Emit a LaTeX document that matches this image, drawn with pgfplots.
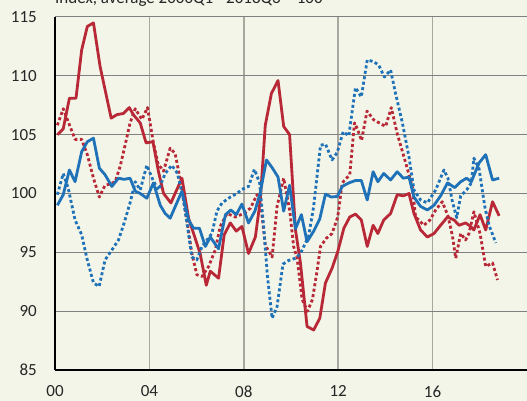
\documentclass[border=0pt]{standalone}
\usepackage{pgfplots}
\pgfplotsset{compat=1.18}
\usepackage{fontspec}
\setmainfont{Carlito}
\definecolor{bg}{RGB}{242,245,232}
\definecolor{myred}{RGB}{185,40,55}
\definecolor{myblue}{RGB}{31,114,184}
\definecolor{hgrid}{RGB}{128,128,128}
\definecolor{vgrid}{RGB}{168,168,160}
\pgfplotstableread{
x y
0.10 105.0
0.35 105.5
0.61 108.1
0.89 108.1
1.13 112.2
1.37 114.2
1.63 114.5
1.91 110.8
2.38 106.4
2.62 106.7
2.90 106.8
3.15 107.3
3.32 106.7
3.61 106.0
3.86 104.3
4.15 104.4
4.38 101.9
4.60 100.0
4.91 99.2
5.38 101.3
5.66 97.9
6.15 94.9
6.41 92.2
6.58 93.4
6.93 92.8
7.17 96.5
7.43 97.5
7.68 96.8
7.92 97.2
8.20 94.9
8.49 96.3
8.70 99.45
8.91 105.8
9.17 108.5
9.45 109.6
9.69 105.7
9.94 105.0
10.19 96.9
10.40 94.1
10.68 88.7
10.96 88.4
11.22 89.4
11.46 92.4
11.74 93.65
11.98 95.05
12.24 97.05
12.49 98.0
12.73 98.25
12.98 97.75
13.23 95.5
13.48 97.3
13.68 96.6
13.93 97.75
14.22 98.3
14.50 99.9
14.76 99.8
15.00 100.0
15.21 98.3
15.49 96.9
15.78 96.3
16.06 96.6
16.34 97.3
16.63 98.0
16.91 97.75
17.12 97.3
17.40 97.5
17.61 97.2
17.75 96.9
18.01 98.2
18.25 96.9
18.54 99.3
18.82 98.1
}\redsolid
\pgfplotstableread{
x y
0.10 105.8
0.35 107.2
0.56 106.1
0.85 104.6
1.13 104.6
1.37 103.3
1.63 101.3
1.88 99.7
2.12 100.7
2.33 100.8
2.55 101.0
2.76 102.3
2.97 104.1
3.18 106.0
3.40 107.2
3.68 106.3
3.92 107.3
4.17 104.3
4.37 102.5
4.60 101.9
4.88 103.85
5.09 103.4
5.31 101.15
5.59 97.75
5.80 94.9
6.01 93.1
6.23 92.95
6.51 93.8
6.79 95.2
7.00 97.2
7.29 98.3
7.64 98.0
7.99 98.3
8.28 98.75
8.56 99.9
8.73 98.9
8.91 95.6
9.20 94.6
9.41 98.9
9.69 101.3
9.95 98.5
10.11 95.5
10.26 94.5
10.47 91.0
10.70 90.0
10.91 91.0
11.11 93.5
11.25 95.5
11.50 96.2
11.74 96.6
11.98 98.0
12.17 100.9
12.49 101.6
12.69 106.0
12.81 105.5
12.99 104.5
13.22 107.0
13.51 106.25
14.01 105.7
14.25 107.3
14.50 105.1
14.86 102.6
15.14 100.6
15.28 98.0
15.63 97.3
15.89 97.75
16.13 98.6
16.41 99.3
16.65 98.1
16.84 96.4
16.98 94.5
17.19 96.6
17.40 96.05
17.54 96.6
17.75 98.45
18.01 96.6
18.25 93.8
18.54 94.1
18.75 92.65
}\reddot
\pgfplotstableread{
x y
0.10 99.0
0.35 99.9
0.61 102.0
0.85 101.0
1.13 103.55
1.37 104.4
1.63 104.7
1.88 102.15
2.12 101.6
2.41 100.6
2.69 101.3
2.93 101.2
3.18 101.3
3.40 100.2
3.61 100.0
3.89 99.6
4.17 100.9
4.46 99.0
4.67 98.3
4.88 97.9
5.38 100.2
5.66 97.75
5.87 97.05
6.12 97.05
6.37 95.5
6.58 96.3
6.93 95.3
7.22 98.2
7.45 98.6
7.68 98.2
7.92 99.1
8.20 97.5
8.47 98.5
8.70 100.1
8.96 102.85
9.20 102.2
9.45 101.4
9.69 98.5
9.94 100.7
10.19 97.0
10.44 98.2
10.68 95.9
10.96 96.8
11.22 97.85
11.46 99.95
11.71 99.7
11.96 99.75
12.17 100.6
12.45 100.9
12.73 101.1
12.98 101.1
13.23 99.45
13.48 101.85
13.68 101.0
13.93 101.7
14.22 101.15
14.50 101.85
14.76 101.3
15.00 101.4
15.21 99.7
15.49 98.9
15.78 98.6
16.06 99.0
16.34 99.8
16.63 100.9
16.94 100.5
17.19 101.0
17.44 101.3
17.64 101.0
17.97 102.6
18.25 103.3
18.54 101.15
18.82 101.3
}\bluesolid
\pgfplotstableread{
x y
0.10 99.9
0.35 101.7
0.56 100.45
0.85 97.75
1.13 96.5
1.35 94.5
1.63 92.4
1.87 92.1
2.12 94.35
2.41 95.2
2.69 96.05
2.93 97.5
3.18 99.2
3.40 101.0
3.61 100.3
3.89 102.4
4.15 101.15
4.38 100.3
4.67 101.7
4.95 102.4
5.19 101.7
5.42 99.7
5.59 97.5
5.80 94.6
6.01 94.35
6.23 95.5
6.44 96.05
6.65 96.6
6.86 98.5
7.08 99.2
7.43 99.7
7.71 100.0
7.92 100.35
8.20 100.6
8.45 102.05
8.67 100.9
8.85 97.0
9.00 93.0
9.20 89.4
9.41 90.4
9.66 94.0
9.89 94.3
10.19 94.5
10.40 94.9
10.75 96.4
10.96 98.9
11.25 104.1
11.46 104.2
11.74 102.85
11.96 103.5
12.21 105.25
12.45 104.9
12.73 109.0
12.98 108.2
13.23 111.35
13.51 111.2
13.72 110.9
13.96 109.9
14.22 110.5
14.43 108.5
14.72 106.0
15.00 103.1
15.21 100.3
15.49 99.45
15.78 99.2
16.13 100.3
16.48 102.0
16.65 101.3
16.84 99.3
17.02 97.95
17.19 99.8
17.44 100.3
17.64 100.9
17.75 103.0
17.97 102.1
18.21 98.9
18.39 97.3
18.68 95.8
}\bluedot
\begin{document}
\begin{tikzpicture}[x=1pt,y=1pt]
\fill[bg] (0,0) rectangle (527,401);
\useasboundingbox (0,0) rectangle (527,401);
\begin{axis}[at={(55pt,31pt)}, anchor=south west,
  width=472pt, height=353pt, scale only axis,
  xmin=0, xmax=20, ymin=85, ymax=115,
  xtick={0,4,8,12,16}, xticklabels={00,04,08,12,16},
  ytick={85,90,95,100,105,110,115}, yticklabels={85,90,95,100,105,110,115},
  major tick length=0pt,
  tick label style={font=\fontsize{17}{20}\selectfont, text=black!85},
  yticklabel style={anchor=east, inner sep=0pt, xshift=-18pt},
  xticklabel style={anchor=north, inner sep=0pt, yshift=-15.5pt},
  grid=major,
  y grid style={hgrid, line width=1pt},
  x grid style={vgrid, line width=1.5pt},
  axis x line*=bottom, axis y line*=left,
  axis line style={black, line width=1.2pt, -},
  every axis plot/.append style={line width=2.8pt, line join=round},
]
\addplot[myred, no markers] table {\redsolid};
\addplot[myred, no markers, dash pattern=on 3pt off 2.5pt, line cap=butt] table {\reddot};
\addplot[myblue, no markers] table {\bluesolid};
\addplot[myblue, no markers, dash pattern=on 3pt off 2.5pt, line cap=butt] table {\bluedot};
\end{axis}
\node[anchor=base west, inner sep=0pt, font=\fontsize{17}{20}\selectfont, text=black!85] at (55,397) {Index, average 2000Q1 - 2018Q3 = 100};
\end{tikzpicture}
\end{document}
